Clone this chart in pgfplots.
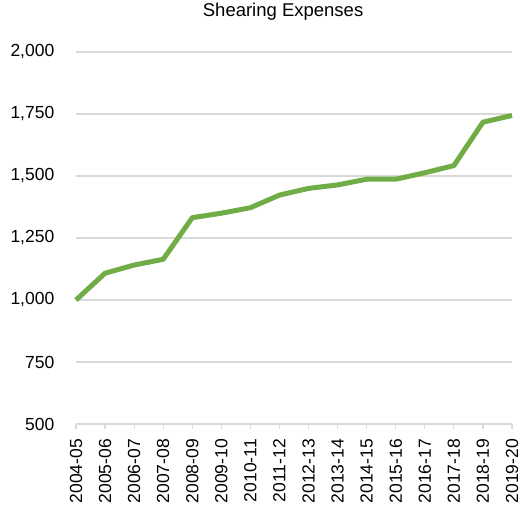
\documentclass[border=0pt]{standalone}
\usepackage{pgfplots}
\pgfplotsset{compat=1.18}
\usepackage{fontspec}
\setmainfont{Liberation Sans}
\definecolor{lgreen}{HTML}{70AD47}
\definecolor{gridc}{HTML}{D9D9D9}
\begin{document}
\begin{tikzpicture}[x=1pt,y=1pt]
\path[use as bounding box] (-76,-84) rectangle (444,424);
\begin{axis}[
  at={(0,0)}, anchor=south west,
  scale only axis, width=436pt, height=372pt,
  xmin=0, xmax=15, ymin=500, ymax=2000,
  ytick={500,750,1000,1250,1500,1750,2000},
  xtick={0,...,15},
  xticklabels={2004-05,2005-06,2006-07,2007-08,2008-09,2009-10,2010-11,2011-12,2012-13,2013-14,2014-15,2015-16,2016-17,2017-18,2018-19,2019-20},
  /pgf/number format/.cd, 1000 sep={,}, assume math mode=true, /pgfplots/.cd,
  ymajorgrids, grid style={draw=gridc, line width=1.2pt},
  axis x line=bottom, axis y line=left,
  x axis line style={draw=gridc, line width=1.2pt, -},
  y axis line style={draw=none},
  xtick align=outside, major tick length=5pt,
  x tick style={draw=gridc, line width=1.2pt},
  y tick style={draw=none},
  tick label style={font=\fontsize{17.5}{20}\selectfont, text=black},
  yticklabel style={anchor=east, inner sep=0pt, xshift=-19pt},
  xticklabel style={yshift=-10pt, rotate=90, anchor=east, inner sep=0pt},
  title={Shearing Expenses},
  title style={at={(0.475,1)}, anchor=south, inner sep=0pt, yshift=25pt, font=\fontsize{18.5}{21}\selectfont},
  clip=false,
]
\addplot[color=lgreen, line width=5pt, line join=round] coordinates {
(0,1000) (1,1108) (2,1141) (3,1164) (4,1332) (5,1350) (6,1372) (7,1423)
(8,1450) (9,1464) (10,1487) (11,1487) (12,1513) (13,1542) (14,1717) (15,1744)
};
\end{axis}
\end{tikzpicture}
\end{document}
